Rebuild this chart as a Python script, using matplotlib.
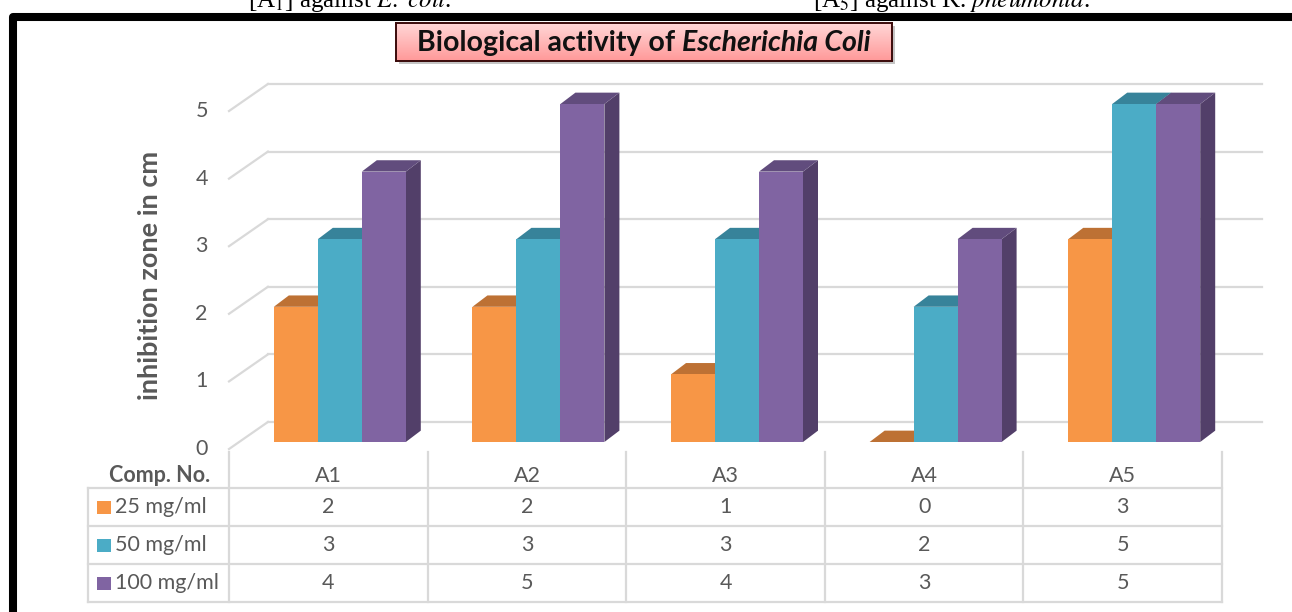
import numpy as np
import matplotlib.pyplot as plt
import matplotlib.transforms as mtransforms
from matplotlib.patches import Rectangle, Polygon

compounds = ['A1', 'A2', 'A3', 'A4', 'A5']
series = ['25 mg/ml', '50 mg/ml', '100 mg/ml']
conc_25 = [2, 2, 1, 0, 3]
conc_50 = [3, 3, 3, 2, 5]
conc_100 = [4, 5, 4, 3, 5]
yticks = [0, 1, 2, 3, 4, 5]

values = [conc_25, conc_50, conc_100]
front_c = ['#F79646', '#4BACC6', '#8064A2']
top_c = ['#BD7134', '#37839A', '#614C7D']
side_c = ['#B46A2D', '#34798C', '#523F69']
grey_txt = '#595959'
grid_c = '#D9D9D9'
fs = 15.5

plt.rcParams['font.family'] = ['Lato', 'DejaVu Sans']
plt.rcParams['mathtext.fontset'] = 'stix'

W, H = 1292, 612
fig = plt.figure(figsize=(W / 100, H / 100), dpi=100)


def fx(px):
    return px / W


def fy(py):
    return 1 - py / H


# caption fragments from the page above the chart
fig.text(fx(350), fy(7), '[A$_1$] against $\\it{E.\\ coli}$.', ha='center', va='baseline',
         fontsize=18, family='Liberation Serif', color='black')
fig.text(fx(951), fy(7), '[A$_5$] against K. $\\it{pneumonia}$.', ha='center', va='baseline',
         fontsize=18, family='Liberation Serif', color='black')

# thick black frame around the chart
frame = Rectangle((fx(13), fy(800)), fx(1500) - fx(13), fy(17) - fy(800),
                  transform=fig.transFigure, fill=False, lw=5.8, ec='black',
                  joinstyle='round', zorder=5)
fig.add_artist(frame)

# main plot area (front plane of the bars)
ax = fig.add_axes([fx(229), fy(452), fx(1222) - fx(229), fy(80) - fy(452)])
ax.set_xlim(0, 5)
ax.set_ylim(-0.148, 5.355)
ax.axis('off')

# 3d wall offsets in data units
wall_dx, wall_back, wall_front = 0.196, 0.296, -0.104
grid_end = 5.2
for v in yticks:
    ax.plot([0, wall_dx], [v + wall_front, v + wall_back], color=grid_c, lw=1.6,
            clip_on=False, zorder=1)
    ax.plot([wall_dx, grid_end], [v + wall_back, v + wall_back], color=grid_c, lw=1.6,
            clip_on=False, zorder=1)
    ax.text(-0.138, v + wall_front, str(v), ha='center', va='center',
            fontsize=fs, color=grey_txt)

# 3d bars
bw = 0.2215
dx, dy = 0.0755, 0.168
shift = 0.058
for i in range(len(compounds)):
    for j, vals in enumerate(values):
        v = vals[i]
        x0 = i + 0.5 + shift - 1.5 * bw + j * bw
        z = 3 + j
        side = Polygon([(x0 + bw, 0), (x0 + bw + dx, dy), (x0 + bw + dx, v + dy), (x0 + bw, v)],
                       closed=True, fc=side_c[j], ec='none', zorder=z)
        top = Polygon([(x0, v), (x0 + bw, v), (x0 + bw + dx, v + dy), (x0 + dx, v + dy)],
                      closed=True, fc=top_c[j], ec='none', zorder=z)
        ax.add_patch(side)
        ax.add_patch(top)
        if v > 0:
            ax.add_patch(Rectangle((x0, 0), bw, v, fc=front_c[j], ec='none', zorder=z))

# data table under the bars
tb = mtransforms.blended_transform_factory(ax.transData, fig.transFigure)
row_lines = [488, 526, 564, 602]
row_mid = [507, 545, 583]
for y in row_lines:
    fig.add_artist(plt.Line2D([fx(88), fx(1222)], [fy(y), fy(y)], color=grid_c, lw=1.6))
fig.add_artist(plt.Line2D([fx(88), fx(88)], [fy(488), fy(602)], color=grid_c, lw=1.6))
for k in range(len(compounds) + 1):
    ax.plot([k, k], [fy(452), fy(602)], transform=tb, color=grid_c, lw=1.6, clip_on=False)

fig.text(fx(210), fy(475), 'Comp. No.', ha='right', va='center', fontsize=fs,
         weight='bold', color=grey_txt)
for i, name in enumerate(compounds):
    ax.text(i + 0.5, fy(476), name, transform=tb, ha='center', va='center',
            fontsize=fs, color=grey_txt)
for j, vals in enumerate(values):
    fig.add_artist(Rectangle((fx(97), fy(row_mid[j] + 6.5)), 14 / W, 13 / H,
                             transform=fig.transFigure, fc=front_c[j], ec='none'))
    fig.text(fx(115), fy(row_mid[j]), series[j], ha='left', va='center',
             fontsize=fs, color=grey_txt)
    for i, v in enumerate(vals):
        ax.text(i + 0.5, fy(row_mid[j]), str(v), transform=tb, ha='center',
                va='center', fontsize=fs, color=grey_txt)

fig.text(fx(150), fy(275), 'inhibition zone in cm', rotation=90, ha='center',
         va='center', fontsize=19.5, weight='bold', color=grey_txt)

# title box with pink gradient and a soft shadow
bx0, bx1, by0, by1 = 396, 892, 23, 61
fig.add_artist(Rectangle((fx(bx0 + 3), fy(by1 + 3)), (bx1 - bx0) / W, (by1 - by0) / H,
                         transform=fig.transFigure, fc='#8C8C8C', ec='none', alpha=0.5,
                         zorder=-1))
tax = fig.add_axes([fx(bx0), fy(by1), (bx1 - bx0) / W, (by1 - by0) / H])
tax.set_zorder(2)
grad = np.linspace(0, 1, 64)[:, None]
pink = np.array([[1.0, 0.84, 0.84]]) * (1 - grad) + np.array([[1.0, 0.60, 0.60]]) * grad
tax.imshow(pink[:, None, :], aspect='auto', extent=[0, 1, 0, 1], interpolation='bilinear')
tax.set_xticks([])
tax.set_yticks([])
for s in tax.spines.values():
    s.set_color('#3A0A0A')
    s.set_linewidth(1.4)

t1 = fig.text(0, fy(43), 'Biological activity of ', ha='left', va='center',
              fontsize=20.5, weight='bold', color='#111111', zorder=6)
t2 = fig.text(0, fy(43), 'Escherichia Coli', ha='left', va='center',
              fontsize=20.5, weight='bold', style='italic', color='#111111', zorder=6)
r = fig.canvas.get_renderer()
w1 = t1.get_window_extent(r).width
w2 = t2.get_window_extent(r).width
start = 644 - (w1 + w2) / 2
t1.set_x(fx(start))
t2.set_x(fx(start + w1))

fig.savefig('out.png', dpi=100)
